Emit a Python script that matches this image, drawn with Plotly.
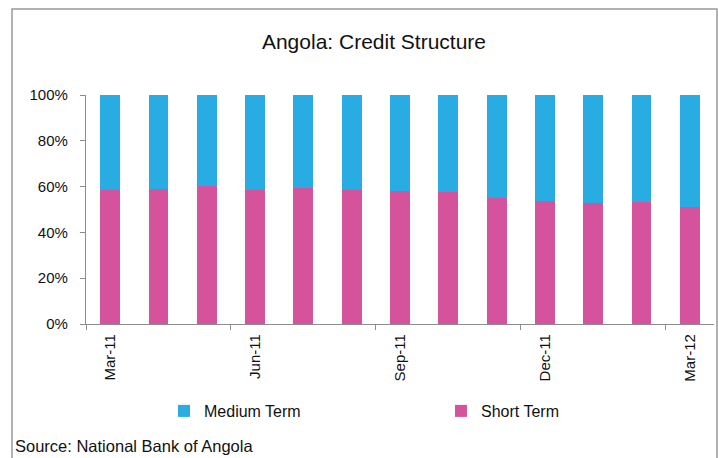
import plotly.graph_objects as go

months = ["Mar-11", "Apr-11", "May-11", "Jun-11", "Jul-11", "Aug-11", "Sep-11",
          "Oct-11", "Nov-11", "Dec-11", "Jan-12", "Feb-12", "Mar-12"]
short_term = [58.4, 58.8, 60.3, 58.5, 59.6, 58.7, 57.9, 57.7, 54.9, 53.9, 52.8, 53.1, 51.1]
medium_term = [round(100 - v, 1) for v in short_term]
y_ticks = [0, 20, 40, 60, 80, 100]

BLUE = "#29ACE2"
PINK = "#D5529C"
GRID = "#8C8C8C"
FONT = "Liberation Sans Narrow, Arial Narrow, Liberation Sans, Arial, sans-serif"

W, H = 718, 458
L, R, T, B = 86, 4, 95, 134
pw, ph = W - L - R, H - T - B

x = list(range(len(months)))
label_idx = x[::3]


def px_x(p):
    return (p - L) / pw


def px_y(p):
    return (H - B - p) / ph


fig = go.Figure()
fig.add_trace(go.Bar(x=x, y=short_term, name="Short Term", legend="legend2",
                     marker=dict(color=PINK, line=dict(width=0)), width=0.41))
fig.add_trace(go.Bar(x=x, y=medium_term, name="Medium Term", legend="legend",
                     marker=dict(color=BLUE, line=dict(width=0)), width=0.41))

legend_common = dict(orientation="h", yanchor="middle", xanchor="left",
                     font=dict(family=FONT, size=16, color="#111111"), bgcolor="rgba(0,0,0,0)",
                     itemwidth=30)

fig.update_layout(
    width=W, height=H,
    margin=dict(l=L, r=R, t=T, b=B, pad=0),
    barmode="stack",
    paper_bgcolor="white", plot_bgcolor="white",
    font=dict(family=FONT, size=15, color="#111111"),
    title=dict(text="Angola: Credit Structure", xref="container", yref="container",
               x=374 / W, y=1 - 42 / H, xanchor="center", yanchor="middle",
               font=dict(family=FONT, size=21, color="#111111")),
    showlegend=True,
    legend=dict(x=px_x(164), y=px_y(411), **legend_common),
    legend2=dict(x=px_x(441), y=px_y(411), **legend_common),
    xaxis=dict(range=[-0.5, len(months) - 0.5], tickmode="array", tickvals=label_idx,
               ticktext=[months[i] for i in label_idx], ticks="", tickangle=-90,
               showline=True, linecolor=GRID, linewidth=1.3, showgrid=False, zeroline=False,
               ticklabelstandoff=3,
               minor=dict(tickmode="array", tickvals=[i - 0.5 for i in label_idx], ticks="outside",
                          ticklen=5, tickcolor=GRID, tickwidth=1.3, showgrid=False),
               tickfont=dict(family=FONT, size=15, color="#111111"), fixedrange=True),
    yaxis=dict(range=[0, 100], tickmode="array", tickvals=y_ticks, ticktext=[f"{v}%" for v in y_ticks],
               ticks="outside", ticklen=5, tickcolor=GRID, tickwidth=1.3,
               showline=True, linecolor=GRID, linewidth=1.3, showgrid=False, zeroline=False,
               ticklabelstandoff=9,
               tickfont=dict(family=FONT, size=15, color="#111111"), fixedrange=True),
)

fig.add_shape(type="rect", xref="paper", yref="paper",
              x0=px_x(12), x1=px_x(717), y0=px_y(9), y1=px_y(470),
              line=dict(color="#999999", width=1.5), fillcolor="rgba(0,0,0,0)", layer="below")

fig.add_annotation(text="Source: National Bank of Angola", xref="paper", yref="paper",
                   x=px_x(13), y=px_y(446), xanchor="left", yanchor="middle", showarrow=False,
                   font=dict(family=FONT, size=16.5, color="#111111"))

fig.write_html("out.html")
